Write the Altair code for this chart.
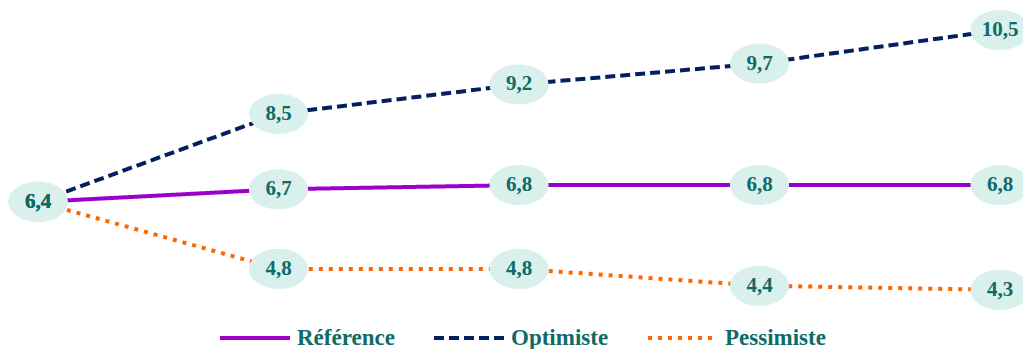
import altair as alt
import pandas as pd

# Scenario values per period
periods = [0, 1, 2, 3, 4]
reference = [6.4, 6.7, 6.8, 6.8, 6.8]
optimiste = [6.4, 8.5, 9.2, 9.7, 10.5]
pessimiste = [6.4, 4.8, 4.8, 4.4, 4.3]

scenarios = ["Référence", "Optimiste", "Pessimiste"]
colors = ["#9900CC", "#002060", "#FF6600"]
dashes = [[1, 0], [10, 5], [4, 6]]

rows = []
for name, vals in zip(scenarios, [reference, optimiste, pessimiste]):
    for p, v in zip(periods, vals):
        rows.append({"scenario": name, "period": p, "value": v,
                     "label": f"{v:.1f}".replace(".", ",")})
df = pd.DataFrame(rows)

x = alt.X("period:Q", scale=alt.Scale(domain=[0, 4], nice=False), axis=None)
y = alt.Y("value:Q", scale=alt.Scale(domain=[2.89, 11.215], nice=False, zero=False), axis=None)

lines = alt.Chart(df).mark_line(strokeWidth=4, strokeCap="butt").encode(
    x=x, y=y,
    color=alt.Color("scenario:N", scale=alt.Scale(domain=scenarios, range=colors),
                    sort=scenarios,
                    legend=alt.Legend(title=None, orient="none", direction="horizontal",
                                      legendX=180, legendY=301, padding=0,
                                      symbolType="stroke", symbolSize=4900,
                                      symbolStrokeWidth=4, labelFont="Liberation Serif",
                                      labelFontSize=23, labelFontWeight="bold",
                                      labelColor="#0E6B66", labelOffset=5,
                                      columnPadding=31, labelLimit=300)),
    strokeDash=alt.StrokeDash("scenario:N", scale=alt.Scale(domain=scenarios, range=dashes),
                              sort=scenarios, legend=None),
)

ellipse = "M-1,0A1,0.68,0,1,1,1,0A1,0.68,0,1,1,-1,0Z"
bubbles = alt.Chart(df).mark_point(shape=ellipse, size=3481, filled=True,
                                   fill="#DAF0EC", opacity=1, strokeWidth=0).encode(x=x, y=y)

labels = alt.Chart(df).mark_text(font="Liberation Serif", fontSize=21, fontWeight="bold",
                                 color="#0E6B66", baseline="middle").encode(
    x=x, y=y, text="label:N")

chart = alt.layer(lines, bubbles, labels).properties(
    width=962, height=349,
    background="white",
    autosize=alt.AutoSizeParams(type="none"),
    padding={"left": 38, "right": 23, "top": 0, "bottom": 0},
).configure_view(stroke=None, strokeWidth=0)

chart.save("out.html", embed_options={"renderer": "svg", "actions": False})
